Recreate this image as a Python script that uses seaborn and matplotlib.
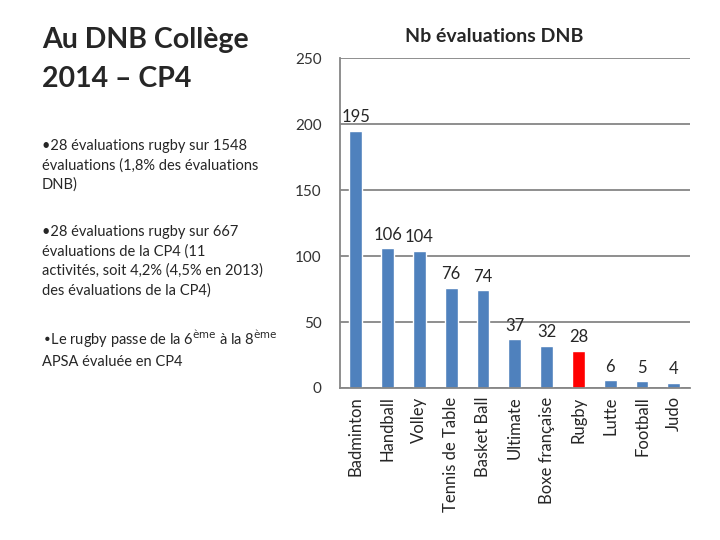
import pandas as pd
import seaborn as sns
import matplotlib.pyplot as plt
import numpy as np

activites = ["Badminton", "Handball", "Volley", "Tennis de Table", "Basket Ball",
             "Ultimate", "Boxe française", "Rugby", "Lutte", "Football", "Judo"]
nb_evals = [195, 106, 104, 76, 74, 37, 32, 28, 6, 5, 4]
couleurs = ["#4F81BD"] * 7 + ["#FF0000"] + ["#4F81BD"] * 3
y_ticks = [0, 50, 100, 150, 200, 250]

df = pd.DataFrame({"activite": activites, "nb": nb_evals})

sns.set_style("white")
plt.rcParams['font.family'] = ['Lato', 'DejaVu Sans']

fig = plt.figure(figsize=(7.2, 5.4), dpi=100)
ax = fig.add_axes([0.472, 0.2815, 0.486, 0.611])

sns.barplot(x="activite", y="nb", hue="activite", data=df, palette=couleurs,
            legend=False, width=0.4, ax=ax, saturation=1)

gris = "#868686"
ax.set_ylim(0, 250)
ax.set_xlim(-0.5, len(activites) - 0.5)
ax.set_yticks(y_ticks)
ax.yaxis.grid(True, color=gris, linewidth=1.3)
ax.set_axisbelow(True)
for s in ["top", "right"]:
    ax.spines[s].set_visible(False)
for s in ["left", "bottom"]:
    ax.spines[s].set_color(gris)
    ax.spines[s].set_linewidth(1.3)

# ticks de l'axe x entre les categories
ax.set_xticks(np.arange(len(activites)))
ax.set_xticklabels(activites, rotation=90, fontsize=12)
ax.set_xticks(np.arange(-0.5, len(activites)), minor=True)
ax.tick_params(axis="x", which="major", length=0, pad=6)
ax.tick_params(axis="x", which="minor", length=5, color=gris, width=1.3, direction="out")
ax.tick_params(axis="y", length=5, color=gris, width=1.3, direction="out",
               labelsize=11, labelcolor="#333333", pad=8)
ax.set_xlabel("")
ax.set_ylabel("")

for i, v in enumerate(nb_evals):
    ax.annotate(str(v), (i, v), xytext=(0, 4), textcoords="offset points",
                ha="center", va="bottom", fontsize=12)

ax.text(0.44, 1.065, "Nb évaluations DNB", transform=ax.transAxes,
        fontsize=14, fontweight="bold", ha="center", va="center")

fig.text(0.058, 0.95, "Au DNB Collège\n2014 – CP4", fontsize=20.5,
         fontweight="bold", va="top", ha="left", linespacing=1.6)

puces = [
    (0.742, "•28 évaluations rugby sur 1548\névaluations (1,8% des évaluations\nDNB)"),
    (0.583, "•28 évaluations rugby sur 667\névaluations de la CP4 (11\nactivités, soit 4,2% (4,5% en 2013)\ndes évaluations de la CP4)"),
    (0.393, "•Le rugby passe de la 6$^{\\rm ème}$ à la 8$^{\\rm ème}$\nAPSA évaluée en CP4"),
]
for y, txt in puces:
    fig.text(0.058, y, txt, fontsize=10.5, va="top", ha="left", linespacing=1.45)

plt.savefig("out.png", dpi=100)
